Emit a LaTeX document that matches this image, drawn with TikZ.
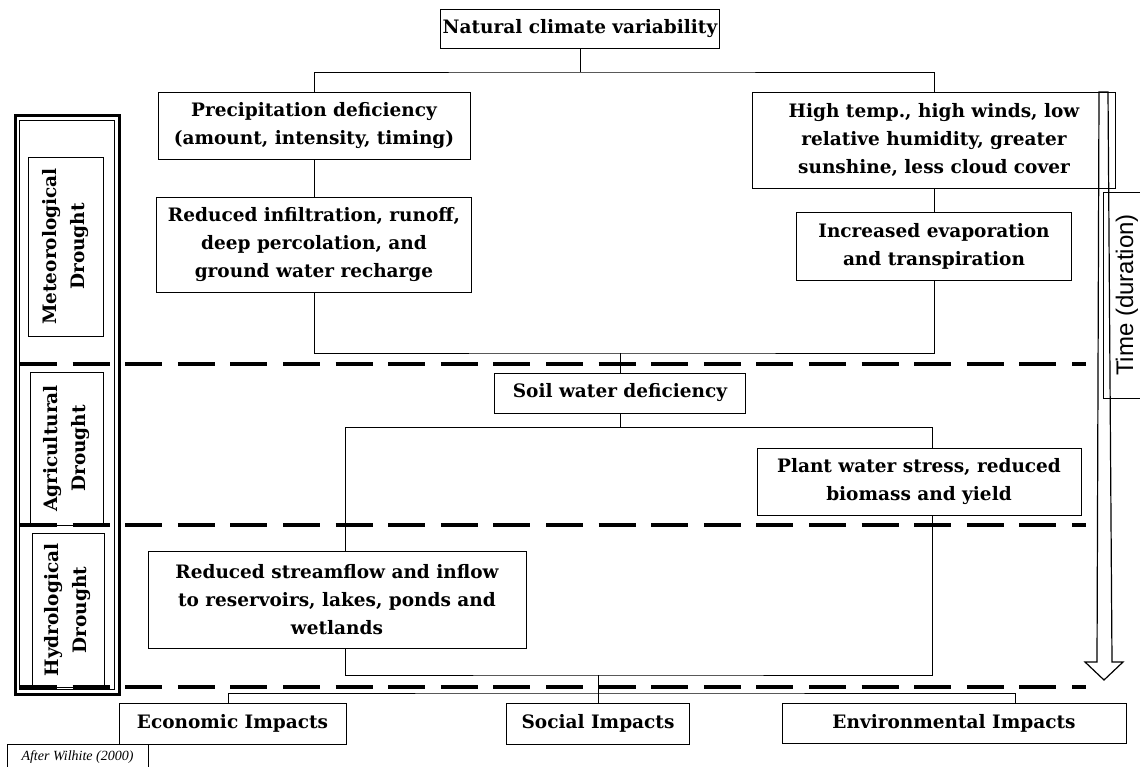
\documentclass[tikz,border=0pt]{standalone}
\usepackage{fontspec}
\setmainfont{DejaVu Serif}
\newfontfamily\timefont{Liberation Sans}
\newfontfamily\notefont{Liberation Serif}
\usetikzlibrary{calc}

\begin{document}
\begin{tikzpicture}[x=1pt, y=-1pt,
  box/.style={draw, line width=0.8pt, fill=white, align=center, inner sep=2pt,
    font=\bfseries\fontsize{18.5}{28}\selectfont},
  droughtbox/.style={draw, line width=0.8pt, align=center, rotate=90, inner sep=2pt,
    font=\bfseries\fontsize{18.5}{28}\selectfont},
  link/.style={line width=0.8pt},
  stage/.style={line width=4.5pt, dash pattern=on 37pt off 15.6pt}]

  \useasboundingbox (0,0) rectangle (1140,767);

  % stage separators
  \foreach \y in {364,525,687}
    \draw[stage] (20,\y) -- (1086,\y);

  % causes
  \node[box, minimum width=276pt, minimum height=39pt] (nat) at (580,28.5) {Natural climate variability};
  \node[box, minimum width=312pt, minimum height=67pt] (precip) at (314,125.5) {Precipitation deficiency\\(amount, intensity, timing)};
  \node[box, minimum width=315pt, minimum height=95pt] (infil) at (314,244.5) {Reduced infiltration, runoff,\\deep percolation, and\\ground water recharge};
  \node[box, minimum width=363pt, minimum height=96pt] (hightemp) at (934,140) {High temp., high winds, low\\relative humidity, greater\\sunshine, less cloud cover};
  \node[box, minimum width=275pt, minimum height=68pt] (evap) at (934,246) {Increased evaporation\\and transpiration};
  \node[box, minimum width=251pt, minimum height=40pt] (soil) at (620,393) {Soil water deficiency};
  \node[box, minimum width=324pt, minimum height=67pt] (plant) at (919,481.5) {Plant water stress, reduced\\biomass and yield};
  \node[box, minimum width=378pt, minimum height=97pt] (stream) at (337,599.5) {Reduced streamflow and inflow\\to reservoirs, lakes, ponds and\\wetlands};

  % impacts
  \node[box, minimum width=227pt, minimum height=41pt] (econ) at (232.5,723.5) {Economic Impacts};
  \node[box, minimum width=183pt, minimum height=41pt] (social) at (598,723.5) {Social Impacts};
  \node[box, minimum width=344pt, minimum height=40pt] (env) at (954,723) {Environmental Impacts};

  % connectors
  \coordinate (split) at (580,72);
  \draw[link] (nat.south) -- (split);
  \draw[link] (precip.north) |- (split) -| (hightemp.north);
  \draw[link] (precip.south) -- (infil.north);
  \draw[link] (hightemp.south) -- (evap.north);
  \coordinate (merge) at (620,353);
  \draw[link] (infil.south) |- (merge) -| (evap.south);
  \draw[link] (merge) -- (soil.north);
  \path (soil.south) ++(0,14) coordinate (fork);
  \draw[link] (soil.south) -- (fork);
  \draw[link] ([xshift=8pt]stream.north) |- (fork) -| ([xshift=13pt]plant.north);
  \coordinate (join) at (598,675);
  \draw[link] ([xshift=8pt]stream.south) |- (join) -| ([xshift=13pt]plant.south);
  \draw[link] (join) -- (social.north);
  \coordinate (spread) at (598,693);
  \draw[link] ([xshift=-4pt]econ.north) |- (spread) -| ([xshift=61pt]env.north);

  % drought types
  \draw[line width=3pt] (15,116) rectangle (119,694);
  \draw[line width=0.8pt] (19.5,120.5) rectangle (114.5,689.5);
  \node[droughtbox, minimum width=179pt, minimum height=75pt] (met) at (65.5,246.5) {Meteorological\\Drought};
  \node[droughtbox, minimum width=153pt, minimum height=73pt] (agr) at (66.5,448.5) {Agricultural\\Drought};
  \node[droughtbox, minimum width=154pt, minimum height=72pt] (hyd) at (68,610) {Hydrological\\Drought};

  % time axis
  \draw[line width=1.2pt] (1099,92) -- (1108,92) -- (1112,662) -- (1123,662) -- (1104,680)
    -- (1085,662) -- (1097,662) -- cycle;
  \node[draw, line width=0.8pt, rotate=90, minimum width=206pt, minimum height=48pt,
    font=\timefont\fontsize{24}{26}\selectfont] (time) at (1127,295) {Time (duration)};

  \node[draw, line width=0.6pt, minimum width=141pt, minimum height=26pt, inner sep=1pt,
    font=\notefont\itshape\fontsize{14}{16}\selectfont] (source) at (77.5,757) {After Wilhite (2000)};
\end{tikzpicture}
\end{document}
